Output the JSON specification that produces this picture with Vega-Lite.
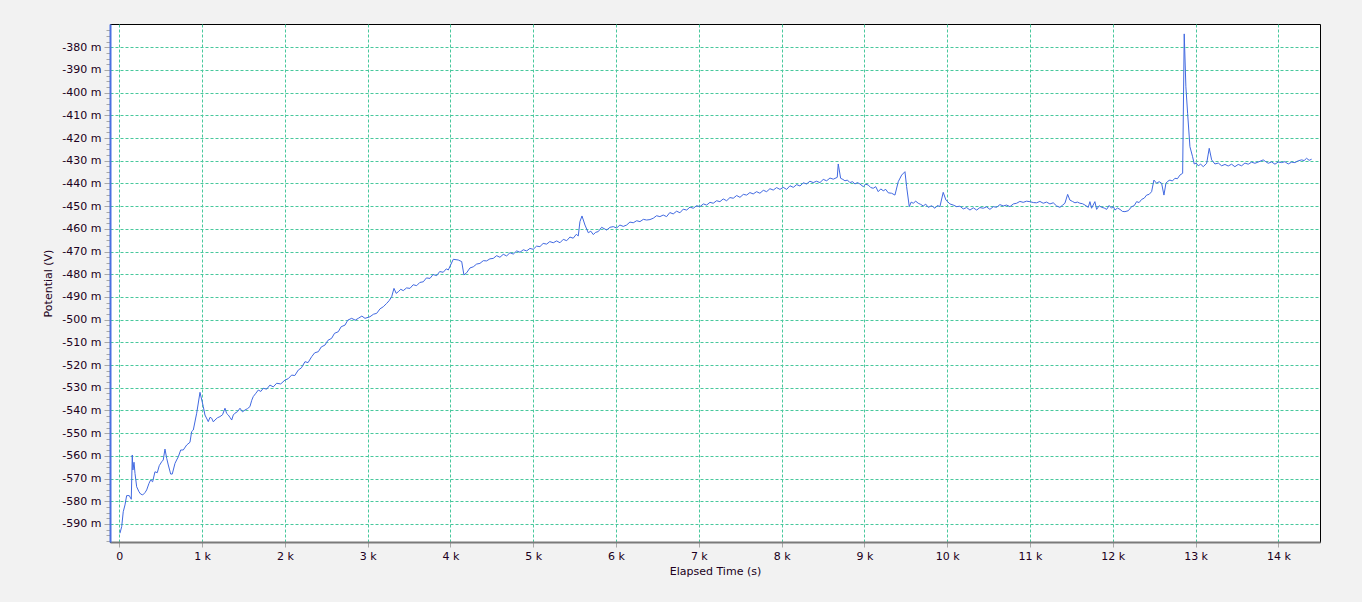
{
  "$schema": "https://vega.github.io/schema/vega-lite/v6.json",
  "width": 1210,
  "height": 518,
  "autosize": {"type": "none"},
  "padding": {"left": 110, "top": 24, "right": 42, "bottom": 60},
  "background": "#f2f2f2",
  "config": {
    "font": "DejaVu Sans",
    "view": {"fill": "white", "stroke": "black", "strokeWidth": 1}
  },
  "data": {"values": [
    {"t":8,"mv":-594.1},{"t":29,"mv":-591.2},{"t":48,"mv":-584.6},{"t":69,"mv":-581.6},{"t":89,"mv":-577.5},{"t":121,"mv":-577.5},{"t":138,"mv":-578.7},{"t":145,"mv":-579.1},{"t":157,"mv":-559.6},{"t":165,"mv":-566.2},{"t":178,"mv":-562.8},{"t":190,"mv":-567.7},{"t":210,"mv":-573.6},{"t":238,"mv":-575.8},{"t":258,"mv":-576.8},{"t":283,"mv":-577.2},{"t":310,"mv":-576.2},{"t":331,"mv":-575.0},{"t":359,"mv":-572.1},{"t":379,"mv":-570.6},{"t":403,"mv":-571.4},{"t":431,"mv":-567.0},{"t":459,"mv":-567.4},{"t":483,"mv":-564.3},{"t":512,"mv":-562.6},{"t":531,"mv":-561.8},{"t":552,"mv":-557.0},{"t":573,"mv":-561.1},{"t":592,"mv":-564.0},{"t":621,"mv":-568.0},{"t":640,"mv":-568.0},{"t":673,"mv":-563.3},{"t":693,"mv":-561.8},{"t":713,"mv":-560.4},{"t":742,"mv":-557.4},{"t":773,"mv":-557.4},{"t":814,"mv":-555.2},{"t":854,"mv":-554.0},{"t":874,"mv":-549.3},{"t":894,"mv":-548.6},{"t":935,"mv":-541.2},{"t":975,"mv":-532.0},
    {"t":1015,"mv":-538.3},{"t":1035,"mv":-542.0},{"t":1075,"mv":-544.9},{"t":1096,"mv":-543.0},{"t":1116,"mv":-543.4},{"t":1136,"mv":-545.0},{"t":1156,"mv":-544.2},{"t":1186,"mv":-543.2},{"t":1216,"mv":-542.7},{"t":1247,"mv":-541.9},{"t":1277,"mv":-539.0},{"t":1297,"mv":-541.3},{"t":1317,"mv":-542.0},{"t":1338,"mv":-543.1},{"t":1358,"mv":-544.2},{"t":1377,"mv":-542.0},{"t":1397,"mv":-541.2},{"t":1428,"mv":-540.5},{"t":1458,"mv":-539.0},{"t":1488,"mv":-540.6},{"t":1518,"mv":-539.8},{"t":1548,"mv":-539.2},{"t":1578,"mv":-538.3},{"t":1600,"mv":-535.5},{"t":1618,"mv":-533.9},{"t":1650,"mv":-532.4},{"t":1679,"mv":-531.0},{"t":1710,"mv":-531.6},{"t":1739,"mv":-530.2},{"t":1780,"mv":-530.6},{"t":1820,"mv":-528.8},{"t":1860,"mv":-529.6},{"t":1901,"mv":-528.0},{"t":1950,"mv":-528.3},{"t":2001,"mv":-526.6},{"t":2040,"mv":-526.0},{"t":2082,"mv":-524.4},{"t":2120,"mv":-524.6},{"t":2162,"mv":-522.2},{"t":2200,"mv":-521.2},{"t":2243,"mv":-518.5},{"t":2280,"mv":-518.9},{"t":2324,"mv":-516.3},{"t":2360,"mv":-514.6},{"t":2404,"mv":-514.1},{"t":2440,"mv":-512.0},{"t":2484,"mv":-511.2},{"t":2520,"mv":-509.1},{"t":2565,"mv":-508.2},{"t":2600,"mv":-506.0},{"t":2645,"mv":-505.3},{"t":2680,"mv":-503.1},{"t":2726,"mv":-502.4},{"t":2760,"mv":-500.2},{"t":2807,"mv":-499.4},{"t":2850,"mv":-500.2},{"t":2887,"mv":-499.4},{"t":2930,"mv":-498.4},{"t":2968,"mv":-499.4},{"t":3028,"mv":-498.7},{"t":3070,"mv":-497.6},{"t":3109,"mv":-497.2},{"t":3150,"mv":-495.2},{"t":3189,"mv":-494.3},{"t":3230,"mv":-492.8},{"t":3260,"mv":-491.6},{"t":3290,"mv":-489.9},{"t":3318,"mv":-486.2},{"t":3345,"mv":-488.4},{"t":3370,"mv":-487.7},{"t":3400,"mv":-486.6},{"t":3430,"mv":-487.2},{"t":3470,"mv":-486.0},{"t":3511,"mv":-486.2},{"t":3550,"mv":-484.6},{"t":3592,"mv":-485.0},{"t":3630,"mv":-483.6},{"t":3672,"mv":-483.3},{"t":3710,"mv":-481.6},{"t":3753,"mv":-481.8},{"t":3790,"mv":-480.1},{"t":3834,"mv":-480.6},{"t":3870,"mv":-478.8},{"t":3913,"mv":-479.1},{"t":3950,"mv":-477.6},{"t":3974,"mv":-478.1},{"t":4034,"mv":-473.4},{"t":4094,"mv":-473.7},{"t":4136,"mv":-474.4},{"t":4163,"mv":-480.3},{"t":4196,"mv":-479.3},{"t":4236,"mv":-477.2},{"t":4276,"mv":-476.7},{"t":4316,"mv":-475.5},{"t":4356,"mv":-475.2},{"t":4397,"mv":-474.0},{"t":4437,"mv":-474.1},{"t":4477,"mv":-473.2},{"t":4517,"mv":-473.0},{"t":4558,"mv":-471.8},{"t":4598,"mv":-472.5},{"t":4638,"mv":-471.2},{"t":4679,"mv":-471.9},{"t":4719,"mv":-470.5},{"t":4759,"mv":-471.1},{"t":4800,"mv":-469.7},{"t":4840,"mv":-470.3},{"t":4880,"mv":-469.2},{"t":4921,"mv":-469.7},{"t":4960,"mv":-468.6},{"t":5000,"mv":-469.0},{"t":5040,"mv":-467.6},{"t":5081,"mv":-467.8},{"t":5120,"mv":-466.4},{"t":5162,"mv":-466.7},{"t":5200,"mv":-465.6},{"t":5242,"mv":-466.1},{"t":5283,"mv":-465.3},{"t":5323,"mv":-466.1},{"t":5363,"mv":-464.6},{"t":5404,"mv":-465.2},{"t":5443,"mv":-463.6},{"t":5483,"mv":-464.1},{"t":5520,"mv":-462.4},{"t":5544,"mv":-463.1},{"t":5564,"mv":-456.8},{"t":5589,"mv":-454.3},{"t":5625,"mv":-458.3},{"t":5665,"mv":-461.7},{"t":5695,"mv":-461.0},{"t":5725,"mv":-462.5},{"t":5755,"mv":-461.5},{"t":5785,"mv":-461.2},{"t":5826,"mv":-459.3},{"t":5887,"mv":-460.5},{"t":5927,"mv":-459.3},{"t":5967,"mv":-459.0},{"t":6007,"mv":-459.6},{"t":6047,"mv":-458.3},{"t":6088,"mv":-458.9},{"t":6128,"mv":-458.3},{"t":6168,"mv":-457.0},{"t":6208,"mv":-457.3},{"t":6250,"mv":-456.4},{"t":6289,"mv":-456.8},{"t":6330,"mv":-455.8},{"t":6370,"mv":-456.1},{"t":6410,"mv":-455.9},{"t":6450,"mv":-455.3},{"t":6490,"mv":-454.2},{"t":6530,"mv":-454.6},{"t":6570,"mv":-453.9},{"t":6611,"mv":-454.6},{"t":6650,"mv":-452.8},{"t":6691,"mv":-453.4},{"t":6732,"mv":-452.2},{"t":6772,"mv":-452.9},{"t":6812,"mv":-451.3},{"t":6853,"mv":-451.7},{"t":6893,"mv":-450.4},{"t":6933,"mv":-450.9},{"t":6973,"mv":-449.8},{"t":7014,"mv":-450.2},{"t":7055,"mv":-449.0},{"t":7095,"mv":-449.5},{"t":7135,"mv":-448.3},{"t":7174,"mv":-448.7},{"t":7215,"mv":-447.6},{"t":7255,"mv":-448.0},{"t":7295,"mv":-446.8},{"t":7336,"mv":-447.6},{"t":7376,"mv":-446.2},{"t":7416,"mv":-446.5},{"t":7457,"mv":-445.3},{"t":7497,"mv":-446.1},{"t":7538,"mv":-444.8},{"t":7578,"mv":-445.1},{"t":7617,"mv":-444.0},{"t":7657,"mv":-444.6},{"t":7698,"mv":-443.6},{"t":7738,"mv":-444.3},{"t":7779,"mv":-443.0},{"t":7819,"mv":-443.6},{"t":7859,"mv":-442.3},{"t":7899,"mv":-442.9},{"t":7940,"mv":-441.8},{"t":7980,"mv":-442.6},{"t":8020,"mv":-441.7},{"t":8061,"mv":-442.6},{"t":8101,"mv":-441.0},{"t":8141,"mv":-441.7},{"t":8182,"mv":-440.5},{"t":8222,"mv":-441.1},{"t":8262,"mv":-439.7},{"t":8302,"mv":-440.2},{"t":8342,"mv":-439.0},{"t":8382,"mv":-439.6},{"t":8422,"mv":-439.0},{"t":8463,"mv":-439.6},{"t":8503,"mv":-438.2},{"t":8544,"mv":-438.8},{"t":8584,"mv":-437.6},{"t":8624,"mv":-438.1},{"t":8672,"mv":-437.3},{"t":8684,"mv":-431.4},{"t":8713,"mv":-437.7},{"t":8740,"mv":-438.2},{"t":8765,"mv":-438.8},{"t":8795,"mv":-438.5},{"t":8825,"mv":-439.6},{"t":8856,"mv":-439.2},{"t":8886,"mv":-440.2},{"t":8916,"mv":-439.6},{"t":8946,"mv":-440.2},{"t":8986,"mv":-441.4},{"t":9017,"mv":-440.3},{"t":9047,"mv":-440.7},{"t":9077,"mv":-441.8},{"t":9107,"mv":-442.1},{"t":9137,"mv":-441.4},{"t":9167,"mv":-443.6},{"t":9198,"mv":-442.4},{"t":9228,"mv":-443.2},{"t":9258,"mv":-442.6},{"t":9288,"mv":-444.1},{"t":9329,"mv":-444.3},{"t":9369,"mv":-445.1},{"t":9409,"mv":-439.2},{"t":9450,"mv":-436.3},{"t":9490,"mv":-434.8},{"t":9510,"mv":-441.4},{"t":9542,"mv":-450.2},{"t":9565,"mv":-448.2},{"t":9590,"mv":-448.7},{"t":9620,"mv":-447.8},{"t":9650,"mv":-448.7},{"t":9680,"mv":-449.2},{"t":9711,"mv":-449.9},{"t":9741,"mv":-449.1},{"t":9771,"mv":-450.5},{"t":9812,"mv":-449.8},{"t":9852,"mv":-450.9},{"t":9882,"mv":-449.7},{"t":9912,"mv":-450.2},{"t":9952,"mv":-443.9},{"t":9985,"mv":-447.3},{"t":10033,"mv":-449.0},{"t":10073,"mv":-449.5},{"t":10114,"mv":-450.2},{"t":10154,"mv":-450.0},{"t":10194,"mv":-451.2},{"t":10235,"mv":-450.6},{"t":10275,"mv":-451.7},{"t":10315,"mv":-450.7},{"t":10356,"mv":-451.7},{"t":10395,"mv":-450.6},{"t":10435,"mv":-450.9},{"t":10476,"mv":-450.3},{"t":10516,"mv":-451.4},{"t":10557,"mv":-450.2},{"t":10597,"mv":-450.5},{"t":10637,"mv":-449.3},{"t":10677,"mv":-449.9},{"t":10718,"mv":-449.5},{"t":10758,"mv":-450.2},{"t":10799,"mv":-449.0},{"t":10839,"mv":-448.7},{"t":10878,"mv":-447.9},{"t":10918,"mv":-448.3},{"t":10959,"mv":-447.8},{"t":10999,"mv":-448.0},{"t":11040,"mv":-448.4},{"t":11080,"mv":-448.5},{"t":11120,"mv":-447.9},{"t":11160,"mv":-448.7},{"t":11200,"mv":-448.2},{"t":11241,"mv":-449.0},{"t":11281,"mv":-448.5},{"t":11322,"mv":-449.9},{"t":11362,"mv":-450.5},{"t":11392,"mv":-449.6},{"t":11422,"mv":-448.7},{"t":11455,"mv":-444.8},{"t":11482,"mv":-447.3},{"t":11513,"mv":-447.9},{"t":11543,"mv":-448.5},{"t":11573,"mv":-448.2},{"t":11603,"mv":-448.7},{"t":11634,"mv":-448.9},{"t":11664,"mv":-449.5},{"t":11704,"mv":-450.5},{"t":11724,"mv":-448.0},{"t":11744,"mv":-450.9},{"t":11784,"mv":-448.0},{"t":11805,"mv":-451.4},{"t":11835,"mv":-449.8},{"t":11865,"mv":-450.5},{"t":11896,"mv":-450.8},{"t":11926,"mv":-451.4},{"t":11956,"mv":-449.7},{"t":11986,"mv":-450.9},{"t":12006,"mv":-450.1},{"t":12026,"mv":-451.7},{"t":12057,"mv":-450.8},{"t":12087,"mv":-451.4},{"t":12117,"mv":-452.3},{"t":12147,"mv":-452.4},{"t":12187,"mv":-452.0},{"t":12228,"mv":-450.2},{"t":12258,"mv":-449.8},{"t":12288,"mv":-448.0},{"t":12318,"mv":-448.4},{"t":12349,"mv":-447.0},{"t":12379,"mv":-446.5},{"t":12409,"mv":-445.1},{"t":12439,"mv":-444.8},{"t":12469,"mv":-443.6},{"t":12497,"mv":-438.5},{"t":12530,"mv":-439.9},{"t":12560,"mv":-439.2},{"t":12590,"mv":-439.9},{"t":12618,"mv":-445.1},{"t":12642,"mv":-439.9},{"t":12665,"mv":-439.0},{"t":12690,"mv":-438.5},{"t":12720,"mv":-438.9},{"t":12751,"mv":-437.7},{"t":12781,"mv":-437.9},{"t":12811,"mv":-436.3},{"t":12844,"mv":-435.5},{"t":12863,"mv":-374.1},{"t":12883,"mv":-397.4},{"t":12904,"mv":-409.1},{"t":12932,"mv":-423.8},{"t":12964,"mv":-428.2},{"t":12984,"mv":-431.4},{"t":13008,"mv":-431.0},{"t":13032,"mv":-432.2},{"t":13062,"mv":-431.5},{"t":13093,"mv":-432.6},{"t":13134,"mv":-431.1},{"t":13165,"mv":-424.5},{"t":13194,"mv":-429.6},{"t":13234,"mv":-431.4},{"t":13275,"mv":-431.0},{"t":13315,"mv":-432.2},{"t":13355,"mv":-431.6},{"t":13394,"mv":-432.3},{"t":13435,"mv":-431.5},{"t":13475,"mv":-432.6},{"t":13515,"mv":-431.6},{"t":13556,"mv":-432.2},{"t":13596,"mv":-431.0},{"t":13636,"mv":-431.5},{"t":13677,"mv":-430.6},{"t":13717,"mv":-431.1},{"t":13767,"mv":-430.4},{"t":13817,"mv":-429.6},{"t":13848,"mv":-430.4},{"t":13878,"mv":-431.1},{"t":13918,"mv":-430.5},{"t":13959,"mv":-431.5},{"t":13999,"mv":-430.5},{"t":14039,"mv":-430.8},{"t":14079,"mv":-430.4},{"t":14119,"mv":-431.4},{"t":14160,"mv":-430.6},{"t":14200,"mv":-430.8},{"t":14240,"mv":-430.0},{"t":14281,"mv":-429.6},{"t":14311,"mv":-429.9},{"t":14341,"mv":-428.9},{"t":14372,"mv":-429.8},{"t":14402,"mv":-429.3}
  ]},
  "mark": {"type": "line", "stroke": "#4169e1", "strokeWidth": 1, "clip": true},
  "encoding": {
    "x": {
      "field": "t", "type": "quantitative",
      "scale": {"domain": [-112, 14503], "nice": false, "zero": false},
      "axis": {
        "title": "Elapsed Time (s)",
        "values": [0,1000,2000,3000,4000,5000,6000,7000,8000,9000,10000,11000,12000,13000,14000],
        "labelExpr": "datum.value === 0 ? '0' : (datum.value / 1000) + ' k'",
        "labelFont": "DejaVu Sans", "labelFontSize": 11, "labelColor": "#200020",
        "labelPadding": 3, "labelFlush": false, "labelOverlap": false,
        "tickSize": 5, "tickColor": "#a8a8a8", "tickWidth": 1,
        "domainColor": "#7a7a7a", "domainWidth": 2,
        "grid": true, "gridColor": "#48c89c", "gridDash": [3, 2], "gridWidth": 1,
        "titleFont": "DejaVu Sans", "titleFontSize": 11, "titleFontWeight": "normal", "titleColor": "#200020", "titlePadding": 4
      }
    },
    "y": {
      "field": "mv", "type": "quantitative",
      "scale": {"domain": [-597.93, -369.74], "nice": false, "zero": false},
      "axis": {
        "title": "Potential (V)",
        "values": [-597.5,-595,-592.5,-590,-587.5,-585,-582.5,-580,-577.5,-575,-572.5,-570,-567.5,-565,-562.5,-560,-557.5,-555,-552.5,-550,-547.5,-545,-542.5,-540,-537.5,-535,-532.5,-530,-527.5,-525,-522.5,-520,-517.5,-515,-512.5,-510,-507.5,-505,-502.5,-500,-497.5,-495,-492.5,-490,-487.5,-485,-482.5,-480,-477.5,-475,-472.5,-470,-467.5,-465,-462.5,-460,-457.5,-455,-452.5,-450,-447.5,-445,-442.5,-440,-437.5,-435,-432.5,-430,-427.5,-425,-422.5,-420,-417.5,-415,-412.5,-410,-407.5,-405,-402.5,-400,-397.5,-395,-392.5,-390,-387.5,-385,-382.5,-380,-377.5,-375,-372.5],
        "labelExpr": "datum.value % 10 === 0 ? datum.value + ' m' : ''",
        "labelFont": "DejaVu Sans", "labelFontSize": 11, "labelColor": "#200020",
        "labelPadding": 3, "labelOverlap": false, "labelFlush": false,
        "tickSize": {"condition": {"test": "datum.value % 10 === 0", "value": 6}, "value": 4},
        "tickColor": "#a8a8a8", "tickWidth": 1,
        "domainColor": "#4a6fe0", "domainWidth": 2,
        "grid": true, "gridColor": "#48c89c", "gridDash": [3, 2], "gridWidth": 1,
        "gridOpacity": {"condition": {"test": "datum.value % 10 === 0", "value": 1}, "value": 0},
        "titleFont": "DejaVu Sans", "titleFontSize": 11, "titleFontWeight": "normal", "titleColor": "#200020", "titlePadding": 8
      }
    }
  }
}
